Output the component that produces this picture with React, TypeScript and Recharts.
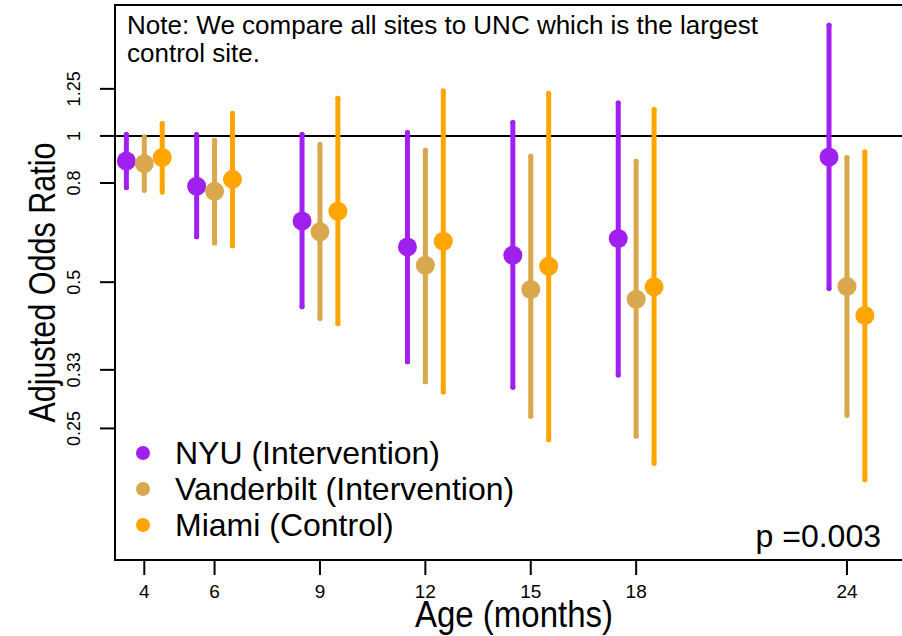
import React from "react"
import {
  ScatterChart,
  Scatter,
  XAxis,
  YAxis,
  ErrorBar,
  ReferenceLine,
  ReferenceArea,
  Legend,
  Label,
} from "recharts"

const FONT = "'Liberation Sans', Arial, Helvetica, sans-serif"

const AGES = [4, 6, 9, 12, 15, 18, 24]
const Y_TICKS = [0.25, 0.33, 0.5, 0.8, 1, 1.25]

const NYU_OR = [0.888, 0.788, 0.668, 0.591, 0.568, 0.615, 0.905]
const NYU_LO = [0.783, 0.62, 0.445, 0.343, 0.304, 0.322, 0.485]
const NYU_HI = [1.007, 1.007, 1.007, 1.016, 1.066, 1.169, 1.69]

const VAN_OR = [0.877, 0.769, 0.635, 0.542, 0.483, 0.461, 0.49]
const VAN_LO = [0.773, 0.602, 0.421, 0.312, 0.265, 0.241, 0.266]
const VAN_HI = [0.995, 0.98, 0.96, 0.934, 0.908, 0.887, 0.903]

const MIA_OR = [0.903, 0.814, 0.7, 0.607, 0.539, 0.489, 0.427]
const MIA_LO = [0.767, 0.594, 0.411, 0.297, 0.237, 0.212, 0.196]
const MIA_HI = [1.061, 1.112, 1.196, 1.238, 1.223, 1.133, 0.927]

const X_DOMAIN = [3.166, 25.88]
const Y_DOMAIN = [0.134, 1.86]

const build = (or: number[], lo: number[], hi: number[], shift: number) =>
  AGES.map((age, i) => ({
    x: age + shift,
    y: or[i],
    err: [or[i] - lo[i], hi[i] - or[i]],
  }))

const series = [
  { name: "NYU (Intervention)", color: "#A020F0", data: build(NYU_OR, NYU_LO, NYU_HI, -0.51) },
  { name: "Vanderbilt (Intervention)", color: "#D9A84E", data: build(VAN_OR, VAN_LO, VAN_HI, 0) },
  { name: "Miami (Control)", color: "#FFA500", data: build(MIA_OR, MIA_LO, MIA_HI, 0.51) },
]
const ORDER = series.map((s) => s.name)

const YTick = (props: any) => {
  const { x, y, payload } = props
  return (
    <text
      x={x}
      y={y}
      transform={`rotate(-90 ${x} ${y})`}
      textAnchor="middle"
      fontSize={18}
      fontFamily={FONT}
      fill="#000"
    >
      {payload.value}
    </text>
  )
}

const XTick = (props: any) => {
  const { x, y, payload } = props
  return (
    <text x={x} y={y} dy="0.71em" textAnchor="middle" fontSize={19} fontFamily={FONT} fill="#000">
      {payload.value}
    </text>
  )
}

const YTitle = (props: any) => {
  const { viewBox } = props
  const x = 55
  const y = viewBox.y + viewBox.height / 2
  return (
    <text
      x={x}
      y={y}
      transform={`rotate(-90 ${x} ${y})`}
      textAnchor="middle"
      fontSize={36}
      fontFamily={FONT}
      textLength={280}
      lengthAdjust="spacingAndGlyphs"
      fill="#000"
    >
      Adjusted Odds Ratio
    </text>
  )
}

const XTitle = (props: any) => {
  const { viewBox } = props
  return (
    <text
      x={viewBox.x + viewBox.width / 2}
      y={viewBox.y + 67}
      textAnchor="middle"
      fontSize={36}
      fontFamily={FONT}
      textLength={198}
      lengthAdjust="spacingAndGlyphs"
      fill="#000"
    >
      Age (months)
    </text>
  )
}

const LegendBox = (props: any) => {
  const items = [...(props.payload || [])].sort(
    (a: any, b: any) => ORDER.indexOf(a.value) - ORDER.indexOf(b.value)
  )
  return (
    <div style={{ fontFamily: FONT, fontSize: 32, color: "#000" }}>
      {items.map((it: any) => (
        <div key={it.value} style={{ display: "flex", alignItems: "center", height: 36, lineHeight: "36px" }}>
          <span
            style={{
              display: "inline-block",
              width: 14,
              height: 14,
              borderRadius: 7,
              background: it.color,
              marginRight: 25,
            }}
          />
          <span style={{ whiteSpace: "nowrap" }}>{it.value}</span>
        </div>
      ))}
    </div>
  )
}

export default function App() {
  return (
    <div
      style={{
        position: "absolute",
        left: 0,
        top: 0,
        width: 902,
        height: 636,
        overflow: "hidden",
        background: "#fff",
        fontFamily: FONT,
      }}
    >
      <div style={{ position: "relative", width: 960, height: 636 }}>
        <ScatterChart width={913} height={636} margin={{ top: 5, right: 0, left: 0, bottom: 0 }}>
          <XAxis
            type="number"
            dataKey="x"
            domain={X_DOMAIN}
            ticks={AGES}
            allowDataOverflow
            height={76}
            axisLine={false}
            tickLine={{ stroke: "#000", strokeWidth: 2 }}
            tickSize={15}
            tickMargin={10}
            tick={<XTick />}
            interval={0}
          >
            <Label content={<XTitle />} />
          </XAxis>
          <YAxis
            type="number"
            dataKey="y"
            scale="log"
            domain={Y_DOMAIN}
            ticks={Y_TICKS}
            allowDataOverflow
            width={115}
            axisLine={false}
            tickLine={{ stroke: "#000", strokeWidth: 2 }}
            tickSize={15}
            tickMargin={20}
            tick={<YTick />}
            interval={0}
          >
            <Label content={<YTitle />} />
          </YAxis>
          <ReferenceArea
            x1={X_DOMAIN[0]}
            x2={X_DOMAIN[1]}
            y1={Y_DOMAIN[0]}
            y2={Y_DOMAIN[1]}
            fill="none"
            stroke="#000"
            strokeWidth={2}
            ifOverflow="visible"
          />
          <ReferenceLine y={1} stroke="#000" strokeWidth={2} />
          {series.map((s) => (
            <Scatter
              key={s.name}
              name={s.name}
              data={s.data}
              fill={s.color}
              isAnimationActive={false}
              shape={(p: any) => <circle cx={p.cx} cy={p.cy} r={9.5} fill={s.color} />}
            >
              <ErrorBar
                dataKey="err"
                direction="y"
                width={0}
                stroke={s.color}
                strokeWidth={5}
                strokeLinecap="round"
                isAnimationActive={false}
              />
            </Scatter>
          ))}
          <Legend
            layout="vertical"
            align="center"
            verticalAlign="middle"
            content={<LegendBox />}
            wrapperStyle={{ left: 136, top: 435, width: "auto" }}
          />
        </ScatterChart>
      </div>
      <div
        style={{
          position: "absolute",
          left: 127,
          top: 11,
          fontSize: 26,
          lineHeight: "28px",
          whiteSpace: "pre",
          color: "#000",
        }}
      >
        {"Note: We compare all sites to UNC which is the largest\ncontrol site."}
      </div>
      <div
        style={{
          position: "absolute",
          right: 902 - 881,
          top: 520,
          fontSize: 32,
          lineHeight: "32px",
          whiteSpace: "pre",
          color: "#000",
        }}
      >
        p =0.003
      </div>
    </div>
  )
}
